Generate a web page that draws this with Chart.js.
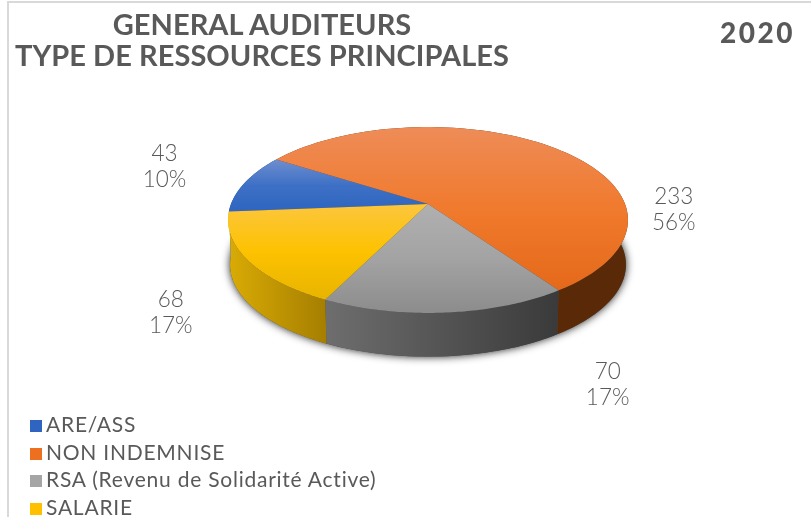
<!DOCTYPE html>
<html>
<head>
<meta charset="utf-8">
<title>General auditeurs</title>
<script src="https://cdn.jsdelivr.net/npm/chart.js@4"></script>
<style>
  html, body { margin: 0; padding: 0; background: #fff; }
  #wrap { position: relative; width: 811px; height: 517px; overflow: hidden; font-family: Lato, sans-serif; color: #595959; }
  #frame { position: absolute; left: 7px; top: 1px; width: 820px; height: 540px; border: 2px solid #d9d9d9; box-sizing: border-box; }
  canvas { position: absolute; left: 0; top: 0; }
  .title { position: absolute; left: 0; width: 524px; text-align: center; font-size: 29px; line-height: 31px; font-weight: 700; letter-spacing: 0.05px; white-space: nowrap; }
  #year { position: absolute; left: 720px; top: 16px; font-size: 28px; line-height: 32px; font-weight: 900; letter-spacing: 2.5px; }
  #legend { position: absolute; left: 30px; top: 410px; margin: 0; padding: 0; list-style: none; font-size: 21px; line-height: 27.6px; font-weight: 400; letter-spacing: 0.76px; white-space: nowrap; }
  #legend span { display: inline-block; width: 12px; height: 12px; margin-right: 4px; }
</style>
</head>
<body>
<div id="wrap">
  <div id="frame"></div>
  <canvas id="pie" width="811" height="517"></canvas>
  <div class="title" style="top: 8px">GENERAL AUDITEURS</div>
  <div class="title" style="top: 39px">TYPE DE RESSOURCES PRINCIPALES</div>
  <div id="year">2020</div>
  <ul id="legend"></ul>
</div>
<script>
// Données
const categories = ['ARE/ASS', 'NON INDEMNISE', 'RSA (Revenu de Solidarité Active)', 'SALARIE'];
const values = [43, 233, 70, 68];
const percents = [10, 56, 17, 17];

const baseColors = ['#2F65C0', '#ED7020', '#A5A5A5', '#FFC000'];
const topColors = [
  ['#6f8ecf', '#3d70c5', '#2f65c0'],
  ['#ee8c58', '#f07a2d', '#e5691a'],
  ['#b0b0b0', '#a3a3a3', '#8c8c8c'],
  ['#fcc63e', '#fdc200', '#e8b400']
];
const sideColors = [
  ['#2a4f8f', '#1c3660'],
  ['#642f0a', '#5a2a08'],
  ['#6e6e6e', '#3a3a3a'],
  ['#d9ab05', '#a67f00']
];
const labelOffsets = [[-80, -16], [124, 63], [162, 72], [-77, 53]];

// Géométrie de la fausse 3D
const cx = 428, cy = 204, radius = 197, flat = 90.2, persp = 0.172, depth = 45;

function project(angle, r, dy) {
  const c = Math.cos(angle) * r, s = Math.sin(angle) * r;
  const k = 1 - persp * s;
  return { x: cx + radius * c / k, y: cy + flat * s / k + dy };
}

function edge(ctx, a0, a1, dy, scale) {
  const steps = 80;
  for (let i = 0; i <= steps; i++) {
    const p = project(a0 + (a1 - a0) * i / steps, scale, dy);
    ctx.lineTo(p.x, p.y);
  }
}

// bornes verticales d'une part, pour son dégradé
function sliceBounds(arc) {
  let min = cy, max = cy;
  for (let i = 0; i <= 80; i++) {
    const p = project(arc.startAngle + (arc.endAngle - arc.startAngle) * i / 80, 1, 0);
    min = Math.min(min, p.y);
    max = Math.max(max, p.y);
  }
  return [min, max];
}

const pie3d = {
  id: 'pie3d',
  beforeDatasetsDraw(chart) {
    const ctx = chart.ctx;
    const arcs = chart.getDatasetMeta(0).data;

    // ombre sous le disque
    ctx.save();
    ctx.shadowColor = 'rgba(0,0,0,0.9)';
    ctx.shadowBlur = 8;
    ctx.fillStyle = '#444';
    ctx.beginPath();
    edge(ctx, 0, Math.PI * 2, depth, 0.99);
    ctx.closePath();
    ctx.fill();
    ctx.restore();

    // flancs
    arcs.forEach((arc, i) => {
      const { startAngle, endAngle } = arc;
      const a = project(startAngle, 1, 0), b = project(endAngle, 1, 0);
      const grad = ctx.createLinearGradient(Math.min(a.x, b.x), 0, Math.max(a.x, b.x), 0);
      grad.addColorStop(0, sideColors[i][0]);
      grad.addColorStop(1, sideColors[i][1]);
      ctx.fillStyle = grad;
      ctx.beginPath();
      edge(ctx, startAngle, endAngle, 0, 1);
      edge(ctx, endAngle, startAngle, depth, 0.99);
      ctx.closePath();
      ctx.fill();
    });

    // faces du dessus
    arcs.forEach((arc, i) => {
      const [y0, y1] = sliceBounds(arc);
      const grad = ctx.createLinearGradient(0, y0, 0, y1);
      grad.addColorStop(0, topColors[i][0]);
      grad.addColorStop(0.5, topColors[i][1]);
      grad.addColorStop(1, topColors[i][2]);
      ctx.fillStyle = grad;
      ctx.beginPath();
      ctx.moveTo(cx, cy);
      edge(ctx, arc.startAngle, arc.endAngle, 0, 1);
      ctx.closePath();
      ctx.fill();
    });

    // étiquettes
    ctx.fillStyle = '#595959';
    ctx.font = '300 22.5px Lato, sans-serif';
    ctx.textAlign = 'center';
    ctx.textBaseline = 'middle';
    arcs.forEach((arc, i) => {
      const p = project((arc.startAngle + arc.endAngle) / 2, 1, 0);
      const x = p.x + labelOffsets[i][0], y = p.y + labelOffsets[i][1];
      ctx.fillText(String(values[i]), x, y - 13);
      ctx.fillText(percents[i] + '%', x, y + 13);
    });
    return false;
  }
};

new Chart(document.getElementById('pie').getContext('2d'), {
  type: 'pie',
  data: {
    labels: categories,
    datasets: [{ data: values, backgroundColor: baseColors, borderWidth: 0 }]
  },
  options: {
    responsive: false,
    animation: false,
    rotation: 265.3,
    plugins: {
      legend: { display: false },
      tooltip: { enabled: false }
    }
  },
  plugins: [pie3d]
});

// Légende HTML
document.getElementById('legend').innerHTML = categories
  .map((c, i) => '<li><span style="background:' + baseColors[i] + '"></span>' + c + '</li>')
  .join('');
</script>
</body>
</html>
